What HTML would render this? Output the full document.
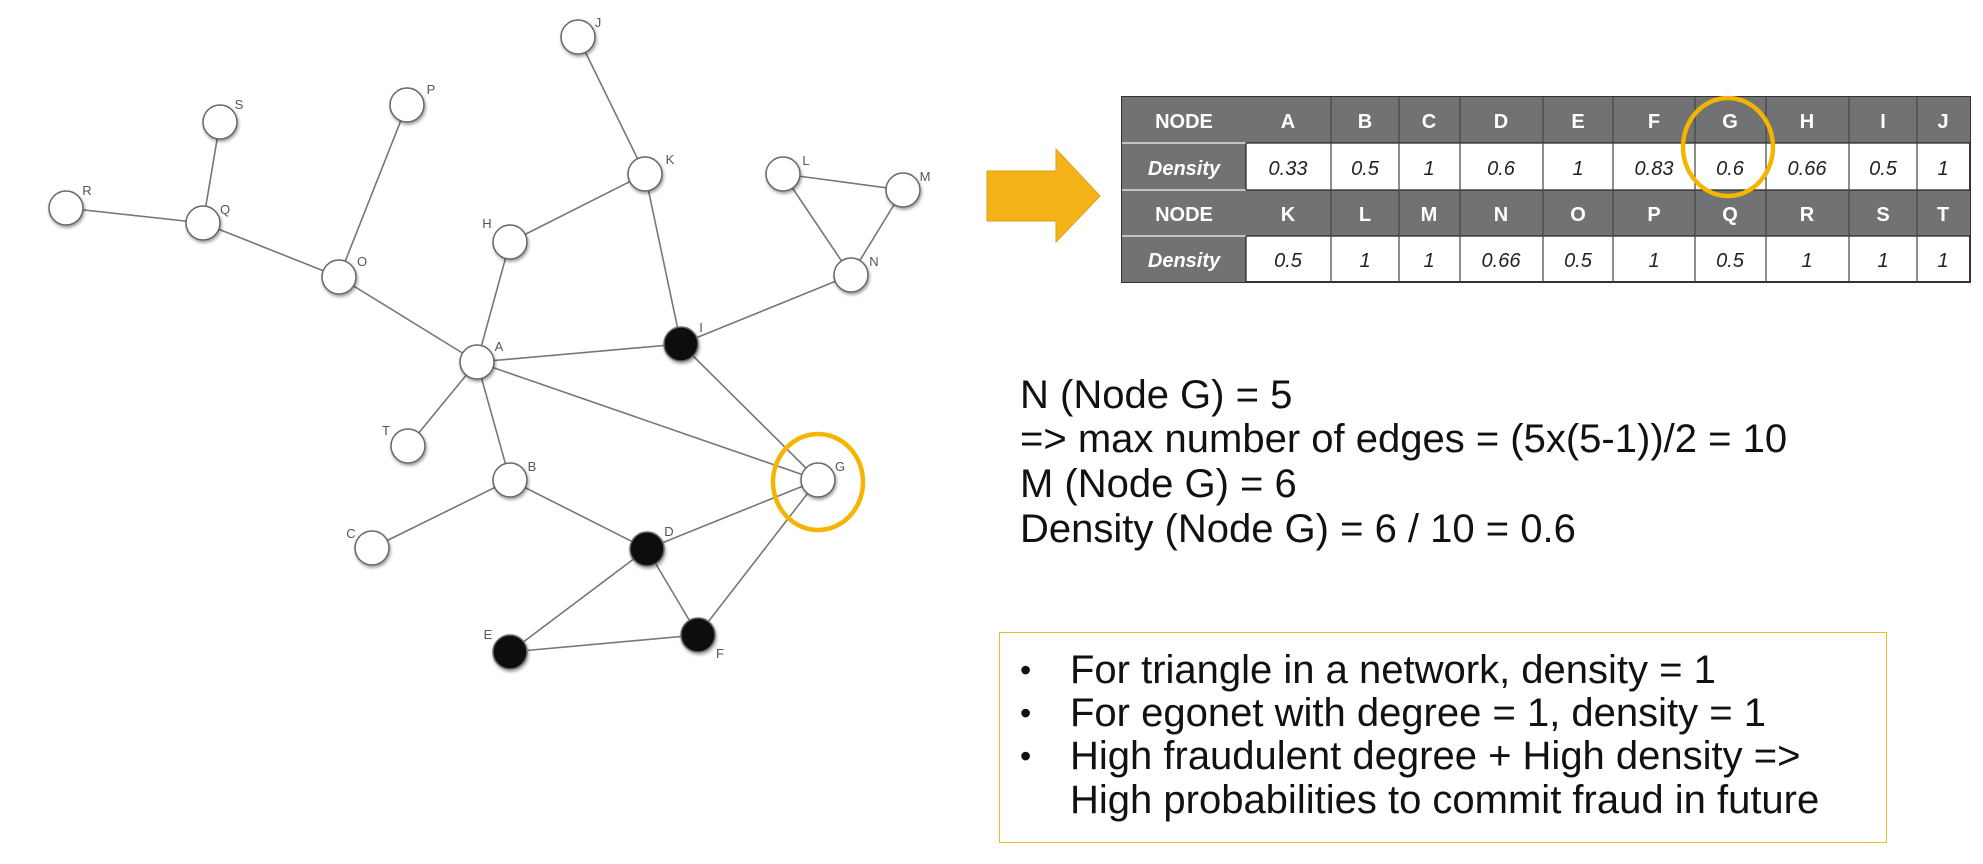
<!DOCTYPE html>
<html><head><meta charset="utf-8"><style>
body{margin:0;width:1983px;height:864px;background:#fff;overflow:hidden;position:relative;font-family:"Liberation Sans",sans-serif}
.t{position:absolute;left:1020px;font-size:40px;color:#111;white-space:nowrap;line-height:44px}
.box{position:absolute;left:999px;top:632px;width:888px;height:211px;border:1.5px solid #f2b72a;box-sizing:border-box}
.b{position:absolute;font-size:40px;color:#111;white-space:nowrap;line-height:44px}
</style></head><body>
<svg width="1983" height="864" style="position:absolute;left:0;top:0">
<defs><filter id="sh"><feDropShadow dx="1" dy="2" stdDeviation="1.5" flood-opacity="0.4"/></filter></defs>
<g stroke="#777" stroke-width="1.6">
<line x1="578" y1="37" x2="645" y2="174"/>
<line x1="220" y1="122" x2="203" y2="223"/>
<line x1="66" y1="208" x2="203" y2="223"/>
<line x1="203" y1="223" x2="339" y2="277"/>
<line x1="407" y1="105" x2="339" y2="277"/>
<line x1="339" y1="277" x2="477" y2="362"/>
<line x1="645" y1="174" x2="510" y2="242"/>
<line x1="645" y1="174" x2="681" y2="344"/>
<line x1="510" y1="242" x2="477" y2="362"/>
<line x1="783" y1="174" x2="903" y2="190"/>
<line x1="783" y1="174" x2="851" y2="275"/>
<line x1="903" y1="190" x2="851" y2="275"/>
<line x1="851" y1="275" x2="681" y2="344"/>
<line x1="477" y1="362" x2="681" y2="344"/>
<line x1="477" y1="362" x2="818" y2="480"/>
<line x1="681" y1="344" x2="818" y2="480"/>
<line x1="477" y1="362" x2="408" y2="446"/>
<line x1="477" y1="362" x2="510" y2="480"/>
<line x1="510" y1="480" x2="372" y2="548"/>
<line x1="510" y1="480" x2="647" y2="549"/>
<line x1="647" y1="549" x2="818" y2="480"/>
<line x1="647" y1="549" x2="510" y2="652"/>
<line x1="647" y1="549" x2="698" y2="635"/>
<line x1="510" y1="652" x2="698" y2="635"/>
<line x1="698" y1="635" x2="818" y2="480"/>
</g>
<g stroke="#666" stroke-width="1.5" fill="#fff" filter="url(#sh)">
<circle cx="578" cy="37" r="17"/><circle cx="220" cy="122" r="17"/><circle cx="407" cy="105" r="17"/>
<circle cx="66" cy="208" r="17"/><circle cx="203" cy="223" r="17"/><circle cx="645" cy="174" r="17"/>
<circle cx="783" cy="174" r="17"/><circle cx="903" cy="190" r="17"/><circle cx="510" cy="242" r="17"/>
<circle cx="339" cy="277" r="17"/><circle cx="851" cy="275" r="17"/><circle cx="477" cy="362" r="17"/>
<circle cx="408" cy="446" r="17"/><circle cx="510" cy="480" r="17"/><circle cx="818" cy="480" r="17"/>
<circle cx="372" cy="548" r="17"/>
<circle cx="681" cy="344" r="17" fill="#111"/><circle cx="647" cy="549" r="17" fill="#111"/>
<circle cx="510" cy="652" r="17" fill="#111"/><circle cx="698" cy="635" r="17" fill="#111"/>
</g>
<g font-size="13" fill="#555" font-family="Liberation Sans,sans-serif" text-anchor="middle">
<text x="598" y="27">J</text><text x="239" y="109">S</text><text x="431" y="94">P</text>
<text x="87" y="195">R</text><text x="225" y="214">Q</text><text x="670" y="164">K</text>
<text x="806" y="165">L</text><text x="925" y="181">M</text><text x="487" y="228">H</text>
<text x="362" y="266">O</text><text x="874" y="266">N</text><text x="701" y="332">I</text>
<text x="499" y="351">A</text><text x="386" y="435">T</text><text x="532" y="471">B</text>
<text x="840" y="471">G</text><text x="351" y="538">C</text><text x="669" y="536">D</text>
<text x="488" y="639">E</text><text x="720" y="658">F</text>
</g>
<ellipse cx="818" cy="482" rx="45" ry="48" fill="none" stroke="#f5b400" stroke-width="4.5"/>
<polygon points="987,171 1056,171 1056,149 1100,196 1056,242 1056,221 987,221" fill="#f5b31a" stroke="#e0a010" stroke-width="1"/>
<g font-family="Liberation Sans,sans-serif">
<rect x="1122" y="97" width="848" height="185" fill="#fff" stroke="#333" stroke-width="2"/>
<rect x="1122" y="97" width="848" height="46" fill="#717274"/>
<rect x="1122" y="190" width="848" height="46" fill="#717274"/>
<rect x="1122" y="143" width="124" height="47" fill="#717274"/>
<rect x="1122" y="236" width="124" height="46" fill="#717274"/>
<g stroke="#ddd" stroke-width="1.5">
<line x1="1122" y1="143" x2="1246" y2="143"/><line x1="1122" y1="190" x2="1246" y2="190"/><line x1="1122" y1="236" x2="1246" y2="236"/>
</g>
<g stroke="#222" stroke-width="1.2">
<line x1="1246" y1="143" x2="1970" y2="143"/><line x1="1246" y1="190" x2="1970" y2="190"/><line x1="1246" y1="236" x2="1970" y2="236"/>
<line x1="1246" y1="143" x2="1246" y2="190"/><line x1="1246" y1="236" x2="1246" y2="282"/>
</g>
<g stroke-width="1.2" stroke="#444">
<line x1="1331" y1="97" x2="1331" y2="282"/><line x1="1399" y1="97" x2="1399" y2="282"/>
<line x1="1460" y1="97" x2="1460" y2="282"/><line x1="1543" y1="97" x2="1543" y2="282"/>
<line x1="1613" y1="97" x2="1613" y2="282"/><line x1="1695" y1="97" x2="1695" y2="282"/>
<line x1="1766" y1="97" x2="1766" y2="282"/><line x1="1849" y1="97" x2="1849" y2="282"/>
<line x1="1917" y1="97" x2="1917" y2="282"/>
</g>
<g fill="#fff" font-weight="bold" font-size="20" text-anchor="middle">
<text x="1184" y="128">NODE</text><text x="1184" y="221">NODE</text>
<text x="1184" y="175" font-style="italic">Density</text><text x="1184" y="267" font-style="italic">Density</text>
<text x="1288" y="128">A</text><text x="1365" y="128">B</text><text x="1429" y="128">C</text><text x="1501" y="128">D</text><text x="1578" y="128">E</text><text x="1654" y="128">F</text><text x="1730" y="128">G</text><text x="1807" y="128">H</text><text x="1883" y="128">I</text><text x="1943" y="128">J</text>
<text x="1288" y="221">K</text><text x="1365" y="221">L</text><text x="1429" y="221">M</text><text x="1501" y="221">N</text><text x="1578" y="221">O</text><text x="1654" y="221">P</text><text x="1730" y="221">Q</text><text x="1807" y="221">R</text><text x="1883" y="221">S</text><text x="1943" y="221">T</text>
</g>
<g fill="#222" font-style="italic" font-size="20" text-anchor="middle">
<text x="1288" y="175">0.33</text><text x="1365" y="175">0.5</text><text x="1429" y="175">1</text><text x="1501" y="175">0.6</text><text x="1578" y="175">1</text><text x="1654" y="175">0.83</text><text x="1730" y="175">0.6</text><text x="1807" y="175">0.66</text><text x="1883" y="175">0.5</text><text x="1943" y="175">1</text>
<text x="1288" y="267">0.5</text><text x="1365" y="267">1</text><text x="1429" y="267">1</text><text x="1501" y="267">0.66</text><text x="1578" y="267">0.5</text><text x="1654" y="267">1</text><text x="1730" y="267">0.5</text><text x="1807" y="267">1</text><text x="1883" y="267">1</text><text x="1943" y="267">1</text>
</g>
</g>
<ellipse cx="1728" cy="147" rx="45" ry="49" fill="none" stroke="#f5b400" stroke-width="4.5"/>
</svg>
<div class="t" style="top:373px">N (Node G) = 5</div>
<div class="t" style="top:417px">=&gt; max number of edges = (5x(5-1))/2 = 10</div>
<div class="t" style="top:462px">M (Node G) = 6</div>
<div class="t" style="top:507px">Density (Node G) = 6 / 10 = 0.6</div>
<div class="box"></div>
<div class="b" style="left:1020px;top:648px;font-size:32px">•</div><div class="b" style="left:1070px;top:648px">For triangle in a network, density = 1</div>
<div class="b" style="left:1020px;top:691px;font-size:32px">•</div><div class="b" style="left:1070px;top:691px">For egonet with degree = 1, density = 1</div>
<div class="b" style="left:1020px;top:734px;font-size:32px">•</div><div class="b" style="left:1070px;top:734px">High fraudulent degree + High density =&gt;</div>
<div class="b" style="left:1070px;top:778px">High probabilities to commit fraud in future</div>
</body></html>
